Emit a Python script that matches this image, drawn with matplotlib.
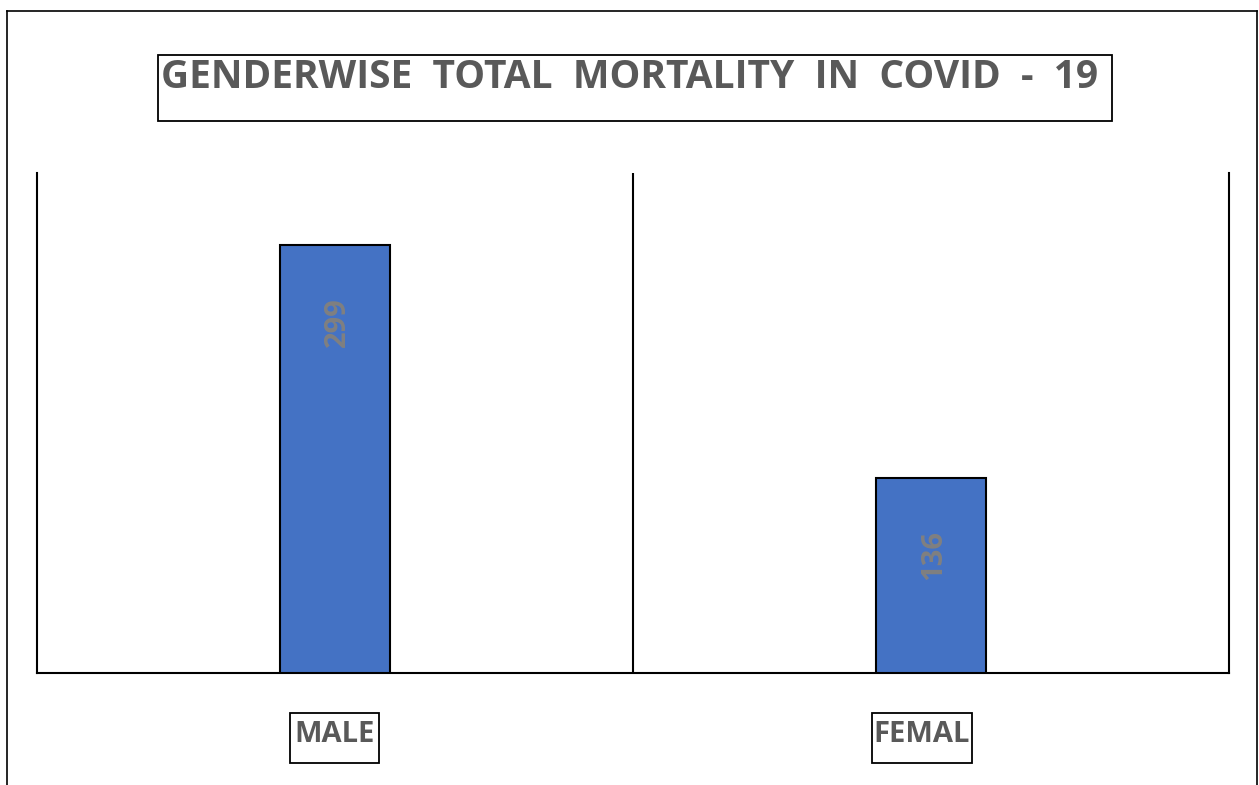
import matplotlib.pyplot as plt
from matplotlib.patches import Rectangle
from matplotlib.lines import Line2D

categories = ['MALE', 'FEMAL']
deaths = [299, 136]
title = 'GENDERWISE  TOTAL  MORTALITY  IN  COVID  -  19'

W, H = 1259, 785
bar_color = '#4472C4'
text_gray = '#595959'
label_gray = '#808080'

plt.rcParams['font.family'] = ['Open Sans', 'DejaVu Sans']

fig = plt.figure(figsize=(W / 100, H / 100), dpi=100)

def fx(px):
    return px / W

def fy(py):
    return 1 - py / H

# outer frame (bottom edge runs off the canvas)
for xs, ys in [((7, 7), (11, H + 5)), ((7, 1257), (11, 11)), ((1257, 1257), (11, H + 5))]:
    fig.add_artist(Line2D([fx(x) for x in xs], [fy(y) for y in ys], color='black', lw=1.2))

ax = fig.add_axes([fx(37), fy(673), fx(1229) - fx(37), fy(173) - fy(673)])
x = list(range(len(categories)))
bars = ax.bar(x, deaths, width=0.185, color=bar_color, edgecolor='black', linewidth=1.5, zorder=3)
ax.set_xlim(-0.5, len(categories) - 0.5)
ax.set_ylim(0, 349.5)
ax.axvline(0.5, color='black', lw=1.5)
ax.spines['top'].set_visible(False)
for s in ['left', 'right', 'bottom']:
    ax.spines[s].set_linewidth(1.5)
ax.set_xticks([])
ax.set_yticks([])

# value labels, rotated, just inside the top of each bar
for xi, v in zip(x, deaths):
    ax.annotate(str(v), (xi, v), xytext=(2, -55), textcoords='offset points',
                rotation=90, ha='center', va='center', fontsize=21,
                fontweight='bold', color=label_gray, zorder=4)

# title in a box
fig.text(fx(630), fy(78), title, ha='center', va='center', fontsize=28,
         fontweight='bold', color=text_gray)
fig.add_artist(Rectangle((fx(158), fy(121)), fx(1112) - fx(158), fy(55) - fy(121),
                         fill=False, edgecolor='black', lw=1.3, transform=fig.transFigure))

# category labels in boxes
label_boxes = [(290, 379), (872, 972)]
for name, (x0, x1) in zip(categories, label_boxes):
    fig.text(fx((x0 + x1) / 2), fy(734), name, ha='center', va='center', fontsize=21,
             fontweight='bold', color=text_gray)
    fig.add_artist(Rectangle((fx(x0), fy(763)), fx(x1) - fx(x0), fy(713) - fy(763),
                             fill=False, edgecolor='black', lw=1.3, transform=fig.transFigure))

fig.savefig('out.png', dpi=100, facecolor='white')
